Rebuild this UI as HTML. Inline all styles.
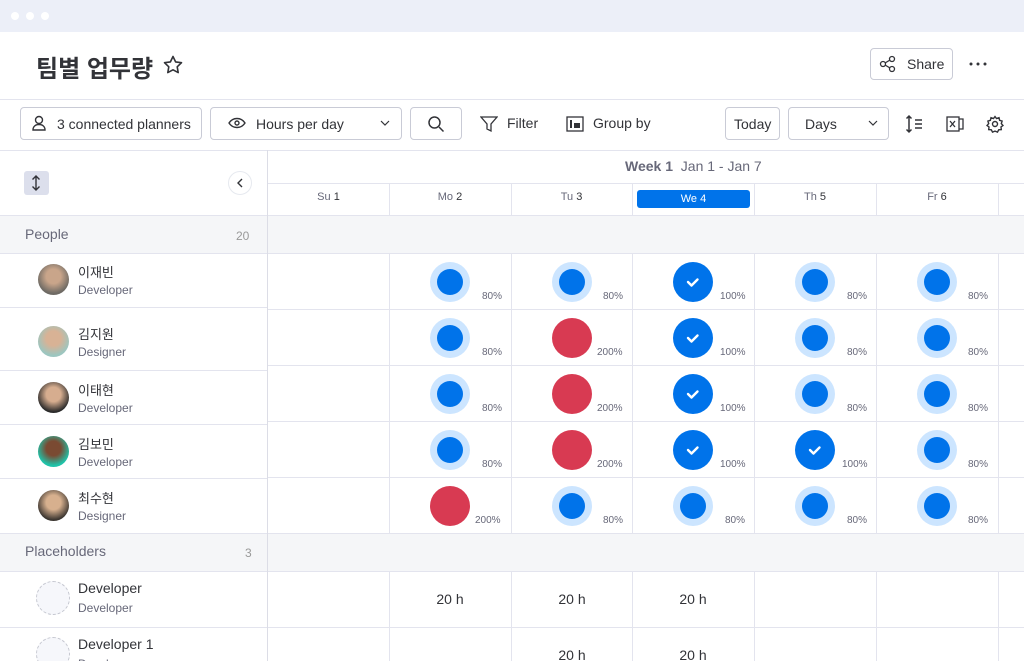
<!DOCTYPE html>
<html><head><meta charset="utf-8"><style>
*{box-sizing:border-box;margin:0;padding:0}
html,body{width:1024px;height:661px;overflow:hidden}
body{background:#fff;font-family:"Liberation Sans","Noto Sans CJK KR",sans-serif;color:#323338;position:relative}
.a{position:absolute}
.btn{position:absolute;border:1px solid #c9cbd6;border-radius:4px;height:33px;top:107px;font-size:14px;display:flex;align-items:center;color:#323338}
.vl{position:absolute;width:1px;background:#e3e4ee}
.hl{position:absolute;height:1px;background:#e3e4ee}
.sub{font-size:12px;color:#676879}
</style></head><body>
<div class="a" style="left:0;top:0;width:1024px;height:32px;background:#eceff8"></div>
<div class="a" style="left:11px;top:12px;width:8px;height:8px;border-radius:50%;background:#fff"></div>
<div class="a" style="left:26px;top:12px;width:8px;height:8px;border-radius:50%;background:#fff"></div>
<div class="a" style="left:41px;top:12px;width:8px;height:8px;border-radius:50%;background:#fff"></div>
<div class="a" style="left:36px;top:49px;font-size:24px;font-weight:bold">팀별 업무량</div>
<svg class="a" style="left:163px;top:55px" width="20" height="20"><path d="M10 1.5l2.6 5.4 5.9.8-4.3 4.1 1 5.8L10 14.8l-5.2 2.8 1-5.8L1.5 7.7l5.9-.8z" fill="none" stroke="#323338" stroke-width="1.6" stroke-linejoin="round"/></svg>
<div class="a" style="left:870px;top:48px;width:83px;height:32px;border:1px solid #c9cbd6;border-radius:4px;font-size:14px;padding:7px 0 0 36px">Share</div>
<svg class="a" style="left:879px;top:55px" width="18" height="18"><g fill="none" stroke="#323338" stroke-width="1.3"><circle cx="4" cy="9" r="2.5"/><circle cx="13" cy="4" r="2.5"/><circle cx="13" cy="14" r="2.5"/><path d="M6 8l5-3M6 10l5 3"/></g></svg>
<svg class="a" style="left:968px;top:61px" width="20" height="6"><circle cx="3" cy="3" r="1.5" fill="#323338"/><circle cx="10" cy="3" r="1.5" fill="#323338"/><circle cx="17" cy="3" r="1.5" fill="#323338"/></svg>
<div class="hl" style="left:0;top:99px;width:1024px"></div>
<div class="btn" style="left:20px;width:182px;padding-left:36px">3 connected planners</div>
<svg class="a" style="left:30px;top:114px" width="18" height="18"><g fill="none" stroke="#323338" stroke-width="1.4"><circle cx="9" cy="6" r="3.5"/><path d="M3 16c0-4 3-5.5 6-5.5s6 1.5 6 5.5z"/></g></svg>
<div class="btn" style="left:210px;width:192px;padding-left:45px">Hours per day</div>
<svg class="a" style="left:380px;top:120px" width="10" height="6"><path d="M1 1l4 4 4-4" fill="none" stroke="#323338" stroke-width="1.2"/></svg>
<svg class="a" style="left:228px;top:116px" width="18" height="14"><g fill="none" stroke="#323338" stroke-width="1.4"><path d="M1 7c4-6 12-6 16 0c-4 6-12 6-16 0z"/><circle cx="9" cy="7" r="2"/></g></svg>
<div class="btn" style="left:410px;width:52px"></div>
<svg class="a" style="left:427px;top:115px" width="18" height="18"><g fill="none" stroke="#323338" stroke-width="1.5"><circle cx="7.5" cy="7.5" r="5.5"/><path d="M12 12l4.5 4.5"/></g></svg>
<svg class="a" style="left:480px;top:115px" width="18" height="18"><path d="M1 2h16l-6 7v7l-4-2v-5z" fill="none" stroke="#323338" stroke-width="1.3"/></svg>
<div class="a" style="left:507px;top:115px;font-size:14px">Filter</div>
<svg class="a" style="left:566px;top:116px" width="18" height="16"><rect x="1" y="1" width="16" height="14" fill="none" stroke="#323338" stroke-width="1.3"/><rect x="4" y="4" width="2" height="8" fill="#323338"/><rect x="8" y="7" width="6" height="5" fill="#323338"/></svg>
<div class="a" style="left:593px;top:115px;font-size:14px">Group by</div>
<div class="btn" style="left:725px;width:55px;padding-left:8px">Today</div>
<div class="btn" style="left:788px;width:101px;padding-left:16px">Days</div>
<svg class="a" style="left:868px;top:120px" width="10" height="6"><path d="M1 1l4 4 4-4" fill="none" stroke="#323338" stroke-width="1.2"/></svg>
<svg class="a" style="left:904px;top:114px" width="20" height="20"><g fill="none" stroke="#323338" stroke-width="1.5"><path d="M5 2v16M2.5 4.5L5 2l2.5 2.5M2.5 15.5L5 18l2.5-2.5M11 6h7M11 10h7M11 14h7"/></g></svg>
<svg class="a" style="left:946px;top:115px" width="18" height="18"><g fill="none" stroke="#323338" stroke-width="1.3"><rect x="1" y="2" width="12" height="14"/><path d="M13 4h4v10h-4"/><path d="M4 6l5 6M9 6l-5 6"/></g></svg>
<svg class="a" style="left:986px;top:115px" width="18" height="18"><g fill="none" stroke="#323338" stroke-width="1.4"><circle cx="9" cy="9" r="2.5"/><path d="M9 1.5l1.5 2 2.5-.8.6 2.6 2.5.8-.8 2.5 1.7 1.9-2 1.5.3 2.6-2.6.2-1.2 2.3-2.5-1-2.5 1-1.2-2.3-2.6-.2.3-2.6-2-1.5 1.7-1.9-.8-2.5 2.5-.8.6-2.6 2.5.8z"/></g></svg>
<div class="hl" style="left:0;top:150px;width:1024px"></div>
<div class="a" style="left:24px;top:171px;width:25px;height:24px;background:#dcdfec;border-radius:3px"></div>
<svg class="a" style="left:29px;top:174px" width="14" height="18"><path d="M7 2v14M3.5 5.5L7 2l3.5 3.5M3.5 12.5L7 16l3.5-3.5" fill="none" stroke="#323338" stroke-width="1.4"/></svg>
<div class="a" style="left:228px;top:171px;width:24px;height:24px;border:1px solid #e6e9ef;border-radius:50%"></div>
<svg class="a" style="left:236px;top:178px" width="8" height="10"><path d="M6 1L2 5l4 4" fill="none" stroke="#323338" stroke-width="1.4"/></svg>
<div class="a" style="left:0;top:215px;width:1024px;height:38px;background:#f5f6f8"></div>
<div class="a" style="left:0;top:533px;width:1024px;height:38px;background:#f5f6f8"></div>
<div class="hl" style="left:0;top:215px;width:1024px"></div>
<div class="hl" style="left:0;top:253px;width:1024px"></div>
<div class="hl" style="left:0;top:533px;width:1024px"></div>
<div class="hl" style="left:0;top:571px;width:1024px"></div>
<div class="hl" style="left:0;top:627px;width:1024px"></div>
<div class="a" style="left:25px;top:226px;font-size:14px;color:#676879">People</div>
<div class="a" style="left:236px;top:229px;font-size:12px;color:#999">20</div>
<div class="a" style="left:25px;top:543px;font-size:14px;color:#676879">Placeholders</div>
<div class="a" style="left:245px;top:546px;font-size:12px;color:#999">3</div>
<div class="hl" style="left:0;top:307px;width:267px"></div>
<div class="hl" style="left:0;top:370px;width:267px"></div>
<div class="hl" style="left:0;top:424px;width:267px"></div>
<div class="hl" style="left:0;top:478px;width:267px"></div>
<div class="a" style="left:38px;top:264px;width:31px;height:31px;border-radius:50%;background:radial-gradient(circle at 50% 40%,#c9a58a 30%,#6e6a64 70%)"></div>
<div class="a" style="left:78px;top:262px;font-size:13px">이재빈</div><div class="a sub" style="left:78px;top:283px">Developer</div>
<div class="a" style="left:38px;top:326px;width:31px;height:31px;border-radius:50%;background:radial-gradient(circle at 50% 40%,#d8b295 30%,#9cc6c0 70%)"></div>
<div class="a" style="left:78px;top:324px;font-size:13px">김지원</div><div class="a sub" style="left:78px;top:345px">Designer</div>
<div class="a" style="left:38px;top:382px;width:31px;height:31px;border-radius:50%;background:radial-gradient(circle at 50% 40%,#d6ad8f 30%,#2a2a2a 72%)"></div>
<div class="a" style="left:78px;top:380px;font-size:13px">이태현</div><div class="a sub" style="left:78px;top:401px">Developer</div>
<div class="a" style="left:38px;top:436px;width:31px;height:31px;border-radius:50%;background:radial-gradient(circle at 50% 40%,#7a4a32 30%,#1fc3a9 70%)"></div>
<div class="a" style="left:78px;top:434px;font-size:13px">김보민</div><div class="a sub" style="left:78px;top:455px">Developer</div>
<div class="a" style="left:38px;top:490px;width:31px;height:31px;border-radius:50%;background:radial-gradient(circle at 50% 40%,#d7b08e 30%,#3b3530 72%)"></div>
<div class="a" style="left:78px;top:488px;font-size:13px">최수현</div><div class="a sub" style="left:78px;top:509px">Designer</div>
<div class="a" style="left:36px;top:581px;width:34px;height:34px;border-radius:50%;border:1px dashed #c5c7d0;background:#f6f7fb"></div>
<div class="a" style="left:78px;top:580px;font-size:14px">Developer</div><div class="a sub" style="left:78px;top:601px">Developer</div>
<div class="a" style="left:36px;top:637px;width:34px;height:34px;border-radius:50%;border:1px dashed #c5c7d0;background:#f6f7fb"></div>
<div class="a" style="left:78px;top:636px;font-size:14px">Developer 1</div><div class="a sub" style="left:78px;top:657px">Developer</div>
<div class="vl" style="left:267px;top:150px;height:511px;background:#dcdde6"></div>
<div class="a" style="left:625px;top:158px;font-size:14px;color:#676879"><b>Week 1</b>&nbsp; Jan 1 - Jan 7</div>
<div class="hl" style="left:268px;top:183px;width:756px"></div>
<div class="a" style="left:268px;top:191px;width:121px;text-align:center;font-size:11px;color:#676879">Su <span style="color:#323338">1</span></div>
<div class="a" style="left:389px;top:191px;width:122px;text-align:center;font-size:11px;color:#676879">Mo <span style="color:#323338">2</span></div>
<div class="a" style="left:511px;top:191px;width:121px;text-align:center;font-size:11px;color:#676879">Tu <span style="color:#323338">3</span></div>
<div class="a" style="left:637px;top:190px;width:113px;height:18px;background:#0073ea;border-radius:3px;text-align:center;font-size:11px;color:#fff;line-height:18px">We 4</div>
<div class="a" style="left:754px;top:191px;width:122px;text-align:center;font-size:11px;color:#676879">Th <span style="color:#323338">5</span></div>
<div class="a" style="left:876px;top:191px;width:122px;text-align:center;font-size:11px;color:#676879">Fr <span style="color:#323338">6</span></div>
<div class="vl" style="left:389px;top:183px;height:32px"></div><div class="vl" style="left:511px;top:183px;height:32px"></div><div class="vl" style="left:632px;top:183px;height:32px"></div><div class="vl" style="left:754px;top:183px;height:32px"></div><div class="vl" style="left:876px;top:183px;height:32px"></div><div class="vl" style="left:998px;top:183px;height:32px"></div>
<div class="vl" style="left:389px;top:253px;height:280px"></div><div class="vl" style="left:511px;top:253px;height:280px"></div><div class="vl" style="left:632px;top:253px;height:280px"></div><div class="vl" style="left:754px;top:253px;height:280px"></div><div class="vl" style="left:876px;top:253px;height:280px"></div><div class="vl" style="left:998px;top:253px;height:280px"></div>
<div class="vl" style="left:389px;top:571px;height:90px"></div><div class="vl" style="left:511px;top:571px;height:90px"></div><div class="vl" style="left:632px;top:571px;height:90px"></div><div class="vl" style="left:754px;top:571px;height:90px"></div><div class="vl" style="left:876px;top:571px;height:90px"></div><div class="vl" style="left:998px;top:571px;height:90px"></div>
<div class="hl" style="left:268px;top:309px;width:756px"></div><div class="hl" style="left:268px;top:365px;width:756px"></div><div class="hl" style="left:268px;top:421px;width:756px"></div><div class="hl" style="left:268px;top:477px;width:756px"></div>
<svg class="a" style="left:0;top:0" width="1024" height="661" font-family="Liberation Sans, sans-serif" font-size="10" fill="#676879">
<defs>
<g id="p"><circle r="20" fill="#cce5ff"/><circle r="13" fill="#0073ea"/></g>
<g id="o"><circle r="20" fill="#d83a52"/></g>
<g id="c"><circle r="20" fill="#0073ea"/><path d="M-5 0l3.5 3.5 6-6" fill="none" stroke="#fff" stroke-width="2.4" stroke-linecap="round" stroke-linejoin="round"/></g>
</defs>
<use href="#p" x="450" y="282"/><text x="482" y="299">80%</text>
<use href="#p" x="572" y="282"/><text x="603" y="299">80%</text>
<use href="#c" x="693" y="282"/><text x="720" y="299">100%</text>
<use href="#p" x="815" y="282"/><text x="847" y="299">80%</text>
<use href="#p" x="937" y="282"/><text x="968" y="299">80%</text>
<use href="#p" x="450" y="338"/><text x="482" y="355">80%</text>
<use href="#o" x="572" y="338"/><text x="597" y="355">200%</text>
<use href="#c" x="693" y="338"/><text x="720" y="355">100%</text>
<use href="#p" x="815" y="338"/><text x="847" y="355">80%</text>
<use href="#p" x="937" y="338"/><text x="968" y="355">80%</text>
<use href="#p" x="450" y="394"/><text x="482" y="411">80%</text>
<use href="#o" x="572" y="394"/><text x="597" y="411">200%</text>
<use href="#c" x="693" y="394"/><text x="720" y="411">100%</text>
<use href="#p" x="815" y="394"/><text x="847" y="411">80%</text>
<use href="#p" x="937" y="394"/><text x="968" y="411">80%</text>
<use href="#p" x="450" y="450"/><text x="482" y="467">80%</text>
<use href="#o" x="572" y="450"/><text x="597" y="467">200%</text>
<use href="#c" x="693" y="450"/><text x="720" y="467">100%</text>
<use href="#c" x="815" y="450"/><text x="842" y="467">100%</text>
<use href="#p" x="937" y="450"/><text x="968" y="467">80%</text>
<use href="#o" x="450" y="506"/><text x="475" y="523">200%</text>
<use href="#p" x="572" y="506"/><text x="603" y="523">80%</text>
<use href="#p" x="693" y="506"/><text x="725" y="523">80%</text>
<use href="#p" x="815" y="506"/><text x="847" y="523">80%</text>
<use href="#p" x="937" y="506"/><text x="968" y="523">80%</text>
<g font-size="14" fill="#323338" text-anchor="middle">
<text x="450" y="604">20 h</text><text x="572" y="604">20 h</text><text x="693" y="604">20 h</text>
<text x="572" y="660">20 h</text><text x="693" y="660">20 h</text>
</g>
</svg>
</body></html>
